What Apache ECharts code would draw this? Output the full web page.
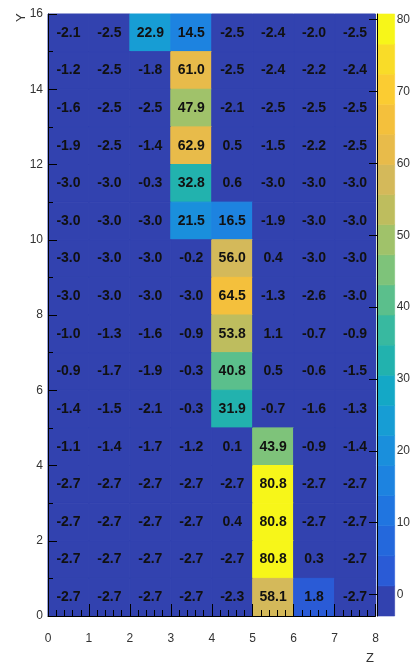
<!DOCTYPE html>
<html>
<head>
<meta charset="utf-8">
<script src="https://cdn.jsdelivr.net/npm/echarts@6/dist/echarts.min.js"></script>
<style>
html,body{margin:0;padding:0;background:#fff;}
#c{width:413px;height:663px;}
</style>
</head>
<body>
<div id="c"></div>
<script>
// ---- data: cell values, rows listed from top (y bin 15) to bottom (y bin 0) ----
const xBins = [0, 1, 2, 3, 4, 5, 6, 7];
const row15 = [-2.1, -2.5, 22.9, 14.5, -2.5, -2.4, -2.0, -2.5];
const row14 = [-1.2, -2.5, -1.8, 61.0, -2.5, -2.4, -2.2, -2.4];
const row13 = [-1.6, -2.5, -2.5, 47.9, -2.1, -2.5, -2.5, -2.5];
const row12 = [-1.9, -2.5, -1.4, 62.9, 0.5, -1.5, -2.2, -2.5];
const row11 = [-3.0, -3.0, -0.3, 32.8, 0.6, -3.0, -3.0, -3.0];
const row10 = [-3.0, -3.0, -3.0, 21.5, 16.5, -1.9, -3.0, -3.0];
const row9  = [-3.0, -3.0, -3.0, -0.2, 56.0, 0.4, -3.0, -3.0];
const row8  = [-3.0, -3.0, -3.0, -3.0, 64.5, -1.3, -2.6, -3.0];
const row7  = [-1.0, -1.3, -1.6, -0.9, 53.8, 1.1, -0.7, -0.9];
const row6  = [-0.9, -1.7, -1.9, -0.3, 40.8, 0.5, -0.6, -1.5];
const row5  = [-1.4, -1.5, -2.1, -0.3, 31.9, -0.7, -1.6, -1.3];
const row4  = [-1.1, -1.4, -1.7, -1.2, 0.1, 43.9, -0.9, -1.4];
const row3  = [-2.7, -2.7, -2.7, -2.7, -2.7, 80.8, -2.7, -2.7];
const row2  = [-2.7, -2.7, -2.7, -2.7, 0.4, 80.8, -2.7, -2.7];
const row1  = [-2.7, -2.7, -2.7, -2.7, -2.7, 80.8, 0.3, -2.7];
const row0  = [-2.7, -2.7, -2.7, -2.7, -2.3, 58.1, 1.8, -2.7];
const rowsTopDown = [row15, row14, row13, row12, row11, row10, row9, row8,
                     row7, row6, row5, row4, row3, row2, row1, row0];
const colorBarTicks = [0, 10, 20, 30, 40, 50, 60, 70, 80];

// ---- palette (20 contour bands, parula-like) ----
const bandColors = [
  '#3242af', '#2a5bd6', '#2468dc', '#2075e0', '#1d83e0',
  '#1a8fdc', '#179dd4', '#14a8c6', '#22b2ae', '#38b9a0',
  '#5bbf8c', '#7ec37a', '#a0c26a', '#bebd5e', '#d4b95a',
  '#e8bb4a', '#f4c03c', '#fbcc32', '#f9dc28', '#f7f619'
];

const cells = [];
rowsTopDown.forEach((row, i) => {
  const y = rowsTopDown.length - 1 - i;
  row.forEach((v, j) => cells.push([xBins[j], y, v]));
});
const allVals = cells.map(c => c[2]);
const zMin = Math.min(...allVals);
const zMax = Math.max(...allVals);
const nBands = bandColors.length;
const step = (zMax - zMin) / nBands;
function bandOf(v) {
  let k = Math.floor((v - zMin) / step);
  if (k < 0) k = 0;
  if (k >= nBands) k = nBands - 1;
  return k;
}
const bands = [];
for (let k = 0; k < nBands; k++) bands.push([zMin + k * step, zMin + (k + 1) * step, k]);

const FONT = 'Liberation Sans, Arial, Helvetica, sans-serif';
const chart = echarts.init(document.getElementById('c'), null, {renderer: 'canvas'});

chart.setOption({
  animation: false,
  backgroundColor: '#ffffff',
  grid: [
    {left: 48, top: 14, width: 327.5, height: 602, containLabel: false},
    {left: 377, top: 14, width: 18, height: 602, containLabel: false}
  ],
  xAxis: [
    {
      gridIndex: 0, type: 'value', min: 0, max: 8, interval: 1, z: 5,
      axisLine: {show: true, onZero: false, lineStyle: {color: '#000', width: 1}},
      axisTick: {show: true, inside: true, length: 12, lineStyle: {color: '#000', width: 1}},
      minorTick: {show: true, splitNumber: 5, length: 6, lineStyle: {color: '#000', width: 1}},
      axisLabel: {color: '#333', fontSize: 12, fontFamily: FONT, margin: 17},
      splitLine: {show: false}
    },
    {
      gridIndex: 1, type: 'value', min: 0, max: 1, show: false
    }
  ],
  yAxis: [
    {
      gridIndex: 0, type: 'value', min: 0, max: 16, interval: 2, z: 5,
      axisLine: {show: true, onZero: false, lineStyle: {color: '#000', width: 1}},
      axisTick: {show: true, inside: true, length: 9, lineStyle: {color: '#000', width: 1}},
      minorTick: {show: true, splitNumber: 2, length: 5, lineStyle: {color: '#000', width: 1}},
      axisLabel: {color: '#333', fontSize: 12, fontFamily: FONT, margin: 5},
      splitLine: {show: false}
    },
    {
      gridIndex: 1, type: 'value', min: zMin, max: zMax, position: 'right', z: 5,
      axisLine: {show: true, lineStyle: {color: '#000', width: 1}},
      axisTick: {show: true, inside: true, length: 8, customValues: colorBarTicks, lineStyle: {color: '#000'}},
      axisLabel: {color: '#333', fontSize: 12, fontFamily: FONT, margin: 2, customValues: colorBarTicks},
      splitLine: {show: false}
    }
  ],
  graphic: [
    {type: 'text', x: 15, y: 22, rotation: Math.PI / 2,
     style: {text: 'Y', font: '13px ' + FONT, fill: '#333', align: 'left', verticalAlign: 'top'}},
    {type: 'text', x: 370, y: 658,
     style: {text: 'Z', font: '13px ' + FONT, fill: '#333', align: 'center', verticalAlign: 'middle'}}
  ],
  series: [
    {
      type: 'custom', xAxisIndex: 0, yAxisIndex: 0, z: 2,
      data: cells,
      renderItem: function (params, api) {
        const x = api.value(0), y = api.value(1), v = api.value(2);
        const p0 = api.coord([x, y + 1]);
        const p1 = api.coord([x + 1, y]);
        const c = bandColors[bandOf(v)];
        return {
          type: 'group',
          children: [
            {type: 'rect', shape: {x: p0[0], y: p0[1], width: p1[0] - p0[0], height: p1[1] - p0[1]},
             style: {fill: c, stroke: c, lineWidth: 1}},
            {type: 'text', x: (p0[0] + p1[0]) / 2, y: (p0[1] + p1[1]) / 2, z2: 10,
             style: {text: v.toFixed(1), font: 'bold 14px ' + FONT, fill: '#111',
                     align: 'center', verticalAlign: 'middle'}}
          ]
        };
      }
    },
    {
      type: 'custom', xAxisIndex: 1, yAxisIndex: 1, z: 2,
      data: bands,
      renderItem: function (params, api) {
        const lo = api.value(0), hi = api.value(1), k = api.value(2);
        const p0 = api.coord([0, hi]);
        const p1 = api.coord([1, lo]);
        return {type: 'rect', shape: {x: p0[0], y: p0[1], width: p1[0] - p0[0], height: p1[1] - p0[1]},
                style: {fill: bandColors[k], stroke: bandColors[k], lineWidth: 0.6}};
      }
    }
  ]
});
</script>
</body>
</html>
